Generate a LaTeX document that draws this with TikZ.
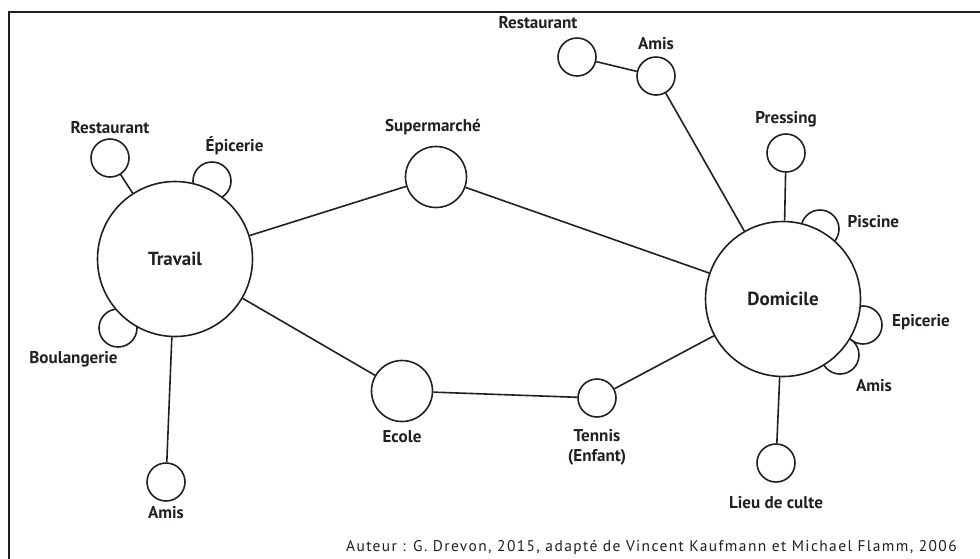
\documentclass[tikz,border=0pt]{standalone}
\usepackage{fontspec}
\setmainfont{PT Sans}
\newfontfamily\espace[LetterSpace=9]{PT Sans}
\usetikzlibrary{positioning}
\definecolor{encre}{RGB}{35,31,32}
\tikzset{
  basic/.style  = {draw=encre, circle, line width=1.2pt, fill=white, inner sep=0pt},
  pole/.style   = {basic, minimum size=116.25pt, text=encre,
                   font=\bfseries\fontsize{14.2}{16}\selectfont},
  arret/.style  = {basic, minimum size=45.75pt},
  lieu/.style   = {basic, minimum size=28.5pt},
  etiquette/.style = {text=encre, align=center, inner sep=0pt,
                   font=\bfseries\fontsize{12.8}{14.8}\selectfont},
  auteur/.style = {text=encre, inner sep=0pt, font=\espace\fontsize{11.6}{13}\selectfont}
}

\begin{document}
\begin{tikzpicture}[x=0.75pt, y=-0.75pt]
\useasboundingbox (0,0) rectangle (980,558);

% cadre
\draw[encre, line width=1.6pt] (9,575) -- (9,12) -- (995,12);

% lieux accoles aux poles
\node[lieu] (t2) at (212,181) {};
\node[lieu] (t3) at (118,328) {};
\node[lieu] (d3) at (820,229) {};
\node[lieu] (d5) at (840,355) {};
\node[lieu] (d4) at (863,325) {};

% les deux poles
\node[pole] (t) at (175,259) {Travail};
\node[pole] (d) at (783,299) {Domicile};

% lieux relies
\node[arret] (s) at (436,177) {};
\node[arret] (e) at (402,391) {};
\node[lieu] (n) at (597,398) {};
\node[lieu] (t1) at (110,158) {};
\node[lieu] (t4) at (166,482) {};
\node[lieu] (d1) at (656,76) {};
\node[lieu] (d11) at (577,57) {};
\node[lieu] (d2) at (786,153) {};
\node[lieu] (d6) at (776,463) {};

\begin{scope}[every node/.style={etiquette}]
\node [above of = t1, node distance=22.5pt] (lt1) {Restaurant};
\node [above of = t2, node distance=26.25pt, xshift=16.9pt] (lt2) {Épicerie};
\node [below of = t3, node distance=23.25pt, xshift=-33.4pt] (lt3) {Boulangerie};
\node [below of = t4, node distance=23.25pt] (lt4) {Amis};
\node [above of = s, node distance=37.5pt, xshift=-2.25pt] (ls) {Supermarché};
\node [below of = e, node distance=34.5pt] (le) {Ecole};
\node [below of = n, node distance=36.75pt] (ln) {Tennis\\(Enfant)};
\node [above of = d1, node distance=24pt] (ld1) {Amis};
\node [above of = d11, node distance=25.5pt, xshift=-29.25pt] (ld11) {Restaurant};
\node [above of = d2, node distance=25.5pt] (ld2) {Pressing};
\node [right of = d3, node distance=40pt, yshift=5.25pt] (ld3) {Piscine};
\node [right of = d4, node distance=43.5pt, yshift=2.25pt] (ld4) {Epicerie};
\node [below of = d5, node distance=23.25pt, xshift=25.5pt] (ld5) {Amis};
\node [below of = d6, node distance=30pt] (ld6) {Lieu de culte};
\end{scope}

\foreach \lieu in {s,e,t1,t4}
  \draw[encre, line width=1.2pt] (t) -- (\lieu);

\foreach \lieu in {s,n,d1,d2,d6}
  \draw[encre, line width=1.2pt] (d) -- (\lieu);

\draw[encre, line width=1.2pt] (e) -- (n);
\draw[encre, line width=1.2pt] (d1) -- (d11);

\node[auteur, anchor=east] (src) at (957,547) {Auteur : G. Drevon, 2015, adapté de Vincent Kaufmann et Michael Flamm, 2006};

\end{tikzpicture}
\end{document}
